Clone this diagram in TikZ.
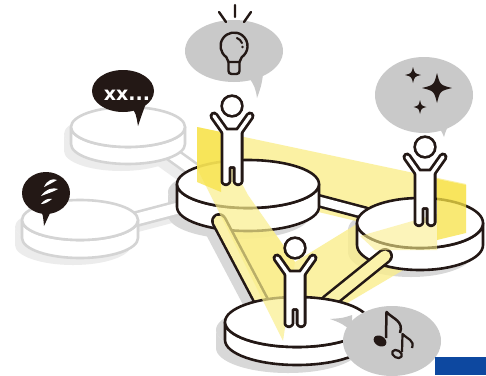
\documentclass[tikz,border=0pt]{standalone}
\usepackage{fontspec}
\newfontfamily\bubblefont{DejaVu Sans}
\usetikzlibrary{calc}

% cylinder-shaped platform: style, cx, cy, rx, ry, height
\newcommand\drawdisk[6]{%
  \path[#1] (#2-#4,#3) -- ++(0,#6)
    arc[start angle=180,end angle=0,x radius=#4,y radius=#5] -- ++(0,-#6)
    arc[start angle=0,end angle=180,x radius=#4,y radius=#5] -- cycle;
  \path[#1] (#2,#3) ellipse[x radius=#4,y radius=#5];}

% outlined bar: outline colour, fill colour, outer width, from, to
\newcommand\drawrod[5]{%
  \draw[#1,line width=#3,line cap=round] (#4) -- (#5);
  \draw[#2,line width=#3-5.2,line cap=round] (#4) -- (#5);}

% cheering figure, head centre given
\newcommand\drawperson[1]{%
  \begin{scope}[shift={#1}]
    \fill[ink] (0,0) circle[radius=11.7];
    \draw[ink,line width=9,line cap=round] (-6,27) -- (-18,10) (6,27) -- (18,10);
    \draw[ink,fill=ink,line width=5.6,rounded corners=1.5]
      (-8.7,24.3) -- (8.7,24.3) -- (8.7,77.2) -- (3.5,77.2) -- (3.5,60)
      -- (-3.5,60) -- (-3.5,77.2) -- (-8.7,77.2) -- cycle;
    \fill[white] (0,0) circle[radius=8.9];
    \fill[white,rounded corners=1.5]
      (-8.7,24.3) -- (8.7,24.3) -- (8.7,77.2) -- (3.5,77.2) -- (3.5,60)
      -- (-3.5,60) -- (-3.5,77.2) -- (-8.7,77.2) -- cycle;
    \draw[white,line width=3.4,line cap=round] (-6,27) -- (-18,10) (6,27) -- (18,10);
  \end{scope}}

% four-pointed twinkle: x, y, half width, half height
\newcommand\twinkle[4]{%
  \fill[ink] (#1,#2-#4) .. controls (#1+0.2*#3,#2-0.2*#4) .. (#1+#3,#2)
    .. controls (#1+0.2*#3,#2+0.2*#4) .. (#1,#2+#4)
    .. controls (#1-0.2*#3,#2+0.2*#4) .. (#1-#3,#2)
    .. controls (#1-0.2*#3,#2-0.2*#4) .. (#1,#2-#4) -- cycle;}

\begin{document}
\begin{tikzpicture}[x=1pt,y=-1pt,line join=round]
\definecolor{ink}{HTML}{231815}
\definecolor{bubblegray}{RGB}{201,201,201}
\definecolor{groundgray}{RGB}{216,216,216}
\definecolor{fadeline}{RGB}{212,212,212}
\definecolor{fadegray}{RGB}{236,236,236}
\definecolor{paleyellow}{RGB}{250,238,140}
\definecolor{brightyellow}{RGB}{247,226,70}
\definecolor{rodyellow}{RGB}{251,242,170}
\definecolor{badge}{RGB}{13,72,160}
\tikzset{
  mainedge/.style={fill=white,draw=ink,line width=2.6},
  fadeedge/.style={fill=white,draw=fadeline,line width=2.6},
}

\useasboundingbox (0,0) rectangle (486,375);
\fill[white] (0,0) rectangle (486,375);

% bar end points
\coordinate (da1) at (166,150); \coordinate (da2) at (205,178);
\coordinate (ea1) at (125,222); \coordinate (ea2) at (182,207);
\coordinate (ab1) at (312,199); \coordinate (ab2) at (365,213);
\coordinate (ac1) at (219,221); \coordinate (ac2) at (266,310);
\coordinate (cb1) at (328,302); \coordinate (cb2) at (385,256);

% ground shadows
\drawdisk{fill=fadegray}{128-7}{127+7}{57}{20}{17}
\drawdisk{fill=fadegray}{80-7}{220+7}{58}{20}{18}
\draw[draw=fadegray,line width=16,line cap=round] ($(da1)+(-7,7)$) -- ($(da2)+(-7,7)$);
\draw[draw=fadegray,line width=16,line cap=round] ($(ea1)+(-7,7)$) -- ($(ea2)+(-7,7)$);
\drawdisk{fill=groundgray}{248-9}{184+8}{71}{24}{23}
\drawdisk{fill=groundgray}{420-9}{223+7}{63}{25}{22}
\drawdisk{fill=groundgray}{297-9}{322+8}{72}{25}{18}
\draw[draw=groundgray,line width=15,line cap=round] ($(ac1)+(-8,7)$) -- ($(ac2)+(-8,7)$);
\draw[draw=groundgray,line width=15,line cap=round] ($(cb1)+(-8,7)$) -- ($(cb2)+(-8,7)$);

% translucent triangle of light linking the three figures
\fill[paleyellow,opacity=.8,even odd rule]
  (197,127) -- (466,184) -- (466,233) -- (283,341) -- (197,168) -- cycle
  (248,195) -- (360,222) -- (295,262) -- cycle;

% faded platforms on the left
\drawrod{fadeline}{white}{16}{da1}{da2}
\drawrod{fadeline}{white}{16}{ea1}{ea2}
\drawdisk{fadeedge}{128}{127}{57}{20}{17}
\drawdisk{fadeedge}{80}{220}{58}{20}{18}

% main platforms and bars
\drawrod{ink}{white}{13.5}{ab1}{ab2}
\drawdisk{mainedge}{248}{184}{71}{24}{23}
\drawdisk{mainedge}{420}{223}{63}{25}{22}
\drawrod{ink}{rodyellow}{16}{ac1}{ac2}
\drawrod{ink}{rodyellow}{16}{cb1}{cb2}
\drawdisk{mainedge}{297}{322}{72}{25}{18}

% light passing in front of the platforms
\fill[paleyellow,opacity=.7]
  (197,150) -- (224,150) -- (248,195) -- (295,262) -- (283,341) -- (197,168) -- cycle;
\fill[paleyellow,opacity=.6] (360,236) -- (437,214) -- (437,250) -- (375,250) -- cycle;
\fill[brightyellow,opacity=.75] (197,127) -- (221,132) -- (221,192) -- (197,182) -- cycle;
\fill[brightyellow,opacity=.75] (437,179) -- (466,185) -- (466,233) -- (437,240) -- cycle;

% figures
\drawperson{(232,106)}
\drawperson{(425,147)}
\drawperson{(295,248)}

% light bulb bubble
\fill[bubblegray] (234,51) ellipse[x radius=49,y radius=31];
\fill[bubblegray] (249,78) .. controls (254,84) and (256,90) .. (257,98)
  .. controls (260,90) and (262,84) .. (263,74) -- cycle;
\draw[ink,line width=2.4,line cap=round] (235,5) -- (235,17) (219,12) -- (226,22) (251,12) -- (244,22);
\draw[ink,line width=2.4] (228.5,62) -- (226.3,57.1)
  arc[start angle=125,end angle=415,radius=13.5] -- (239.5,62) -- cycle;
\draw[ink,line width=2.4,rounded corners=3] (228.5,62) -- (228.5,74) -- (239.5,74) -- (239.5,62);
\draw[ink,line width=2,line cap=round] (234,46) ++(290:8.5) arc[start angle=290,end angle=340,radius=8.5];
\fill[ink] (242.5,47) circle[radius=1.3];

% sparkle bubble
\fill[bubblegray] (424,95) ellipse[x radius=49,y radius=38];
\fill[bubblegray] (437,126) .. controls (441,130) .. (444,137) .. controls (446,130) .. (451,122) -- cycle;
\twinkle{437}{88}{15}{15}
\twinkle{413}{75}{8}{8}
\twinkle{420}{107}{6.5}{7}

% music bubble
\fill[bubblegray] (392,341) ellipse[x radius=49,y radius=35];
\fill[bubblegray] (352,315) .. controls (343,318) .. (330,319) .. controls (341,323) .. (352,331) -- cycle;
\fill[ink,rotate around={-30:(380,341)}] (380,341) ellipse[x radius=6.8,y radius=5];
\draw[ink,line width=2.5] (386,338) -- (386.5,312) .. controls (393,319) and (404,321) .. (400,333);
\draw[ink,line width=2.2,rotate around={-30:(397,354)}] (397,354) ellipse[x radius=5.2,y radius=3.6];
\draw[ink,line width=2.2] (402,352) -- (402.5,334) .. controls (407,339) and (415,340) .. (412,348);

% dark bubbles on the faded platforms
\fill[ink] (123,91) ellipse[x radius=31,y radius=21];
\fill[ink] (132,108) .. controls (136,114) .. (138,126) .. controls (141,117) .. (145,106) -- cycle;
\node[anchor=base,text=white,inner sep=0,font=\bubblefont\bfseries\fontsize{19}{19}\selectfont] (xx) at (127,100) {xx...};

\fill[ink] (46,193) ellipse[x radius=24,y radius=21];
\fill[ink] (40,209) .. controls (43,215) .. (44,226) .. controls (47,218) .. (51,211) -- cycle;
\fill[white] (44,187) .. controls (47,180) and (53,178) .. (57,180) .. controls (52,183) and (48,185) .. (44,187) -- cycle;
\fill[white] (41,196) .. controls (46,189) and (53,187) .. (58,189) .. controls (53,192) and (46,194) .. (41,196) -- cycle;
\fill[white] (41,204) .. controls (44,200) and (48,198) .. (52,199) .. controls (48,202) and (45,204) .. (41,204) -- cycle;

% corner badge
\fill[badge] (435,357) rectangle (486,375);
\end{tikzpicture}
\end{document}
